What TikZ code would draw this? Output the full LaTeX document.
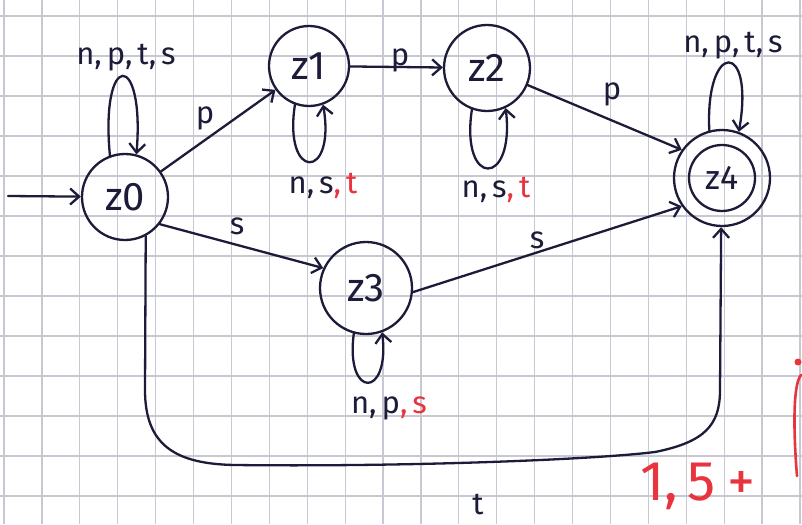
\documentclass[tikz,border=0pt]{standalone}
\usepackage{fontspec}
\setmainfont{Fira Sans}
\usetikzlibrary{arrows.meta}
\definecolor{ink}{RGB}{28,28,58}
\definecolor{inkred}{RGB}{232,52,62}
\definecolor{gridline}{RGB}{200,200,210}
\newcommand{\gap}{\hspace{5pt}}
\tikzset{
  state/.style={circle, draw=ink, line width=2.3pt, inner sep=0pt,
    font=\fontsize{40}{40}\selectfont, text=ink},
  edge/.style={draw=ink, line width=2.3pt, line cap=round,
    -{Straight Barb[length=9pt, width=16pt, line width=2.3pt]}},
  lbl/.style={text=ink, inner sep=0pt, font=\fontsize{31}{31}\selectfont},
  redlbl/.style={text=inkred, inner sep=0pt, font=\fontsize{56}{56}\selectfont},
  gridrule/.style={draw=gridline, line width=1.2pt}
}
\begin{document}
\begin{tikzpicture}[x=1pt, y=-1pt]
\useasboundingbox (0,0) rectangle (802,524);
\fill[white] (0,0) rectangle (802,524);

% squared paper
\foreach \i in {0,...,21} \draw[gridrule] ({4+37.9*\i},0) -- ++(0,524);
\foreach \j in {0,...,12} \draw[gridrule] (0,{16+40*\j}) -- ++(802,0);

% states
\node[state, minimum size=86pt] (z0) at (125,197) {z0};
\node[state, minimum size=80pt] (z1) at (309,66) {z1};
\node[state, minimum size=86pt] (z2) at (487,68) {z2};
\node[state, minimum size=92pt] (z3) at (366,288) {z3};
\node[state, minimum size=96pt, font=\fontsize{34}{34}\selectfont] (z4) at (722,178) {z4};
\node[state, minimum size=66pt] (z4in) at (z4) {};

% initial arrow
\coordinate (start) at (8,196);
\draw[edge] (start) -- (z0);

% transitions between states
\draw[edge] (z0) -- (z1);
\draw[edge] (z1) -- (z2);
\draw[edge] (z2) -- (z4.145);
\draw[edge] (z0.-38) -- (z3.155);
\draw[edge] (z3.-5) -- (z4.215);
\draw[edge] (z0.-62) -- (145,390)
  .. controls (145,445) and (175,464) .. (235,465)
  .. controls (400,467) and (590,460) .. (655,452)
  .. controls (705,442) and (720,425) .. (720,390)
  -- (z4.-91);

% self loops
\draw[edge] (z0.110) .. controls (100,50) and (145,50) .. (z0.75);
\draw[edge] (z1.250) .. controls (283,181) and (336,181) .. (z1.-70);
\draw[edge] (z2.250) .. controls (460,188) and (515,188) .. (z2.-65);
\draw[edge] (z3.255) .. controls (345,399) and (390,399) .. (z3.-70);
\draw[edge] (z4.105) .. controls (705,40) and (755,40) .. (z4.70);

% transition labels
\node[lbl] (l00) at (126,58) {n,\gap p,\gap t,\gap s};
\node[lbl] (l44) at (733,46) {n,\gap p,\gap t,\gap s};
\node[lbl] (l11) at (323,186) {n,\gap s\textcolor{inkred}{,\gap t}};
\node[lbl] (l22) at (496,190) {n,\gap s\textcolor{inkred}{,\gap t}};
\node[lbl] (l33) at (389,408) {n,\gap p\textcolor{inkred}{,\gap s}};
\node[lbl] (l01) at (205,118) {p};
\node[lbl] (l12) at (400,60) {p};
\node[lbl] (l24) at (612,94) {p};
\node[lbl] (l03) at (237,226) {s};
\node[lbl] (l34) at (537,240) {s};
\node[lbl] (l04) at (478,504) {t};

% red marks
\node[redlbl] (score) at (698,486) {1,\hspace{9pt}5\hspace{12pt}+};
\fill[inkred] (798,362) circle (3.5pt);
\draw[inkred, line width=2.6pt, line cap=round]
  (801,375) .. controls (792,385) and (794,440) .. (797,476);
\end{tikzpicture}
\end{document}
